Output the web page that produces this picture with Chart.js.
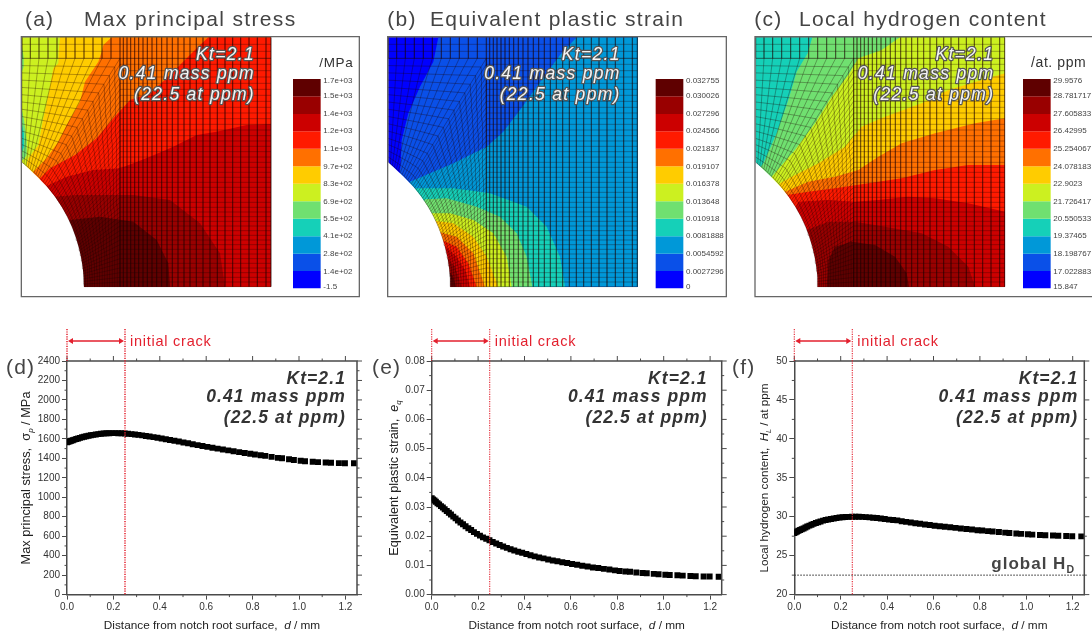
<!DOCTYPE html>
<html><head><meta charset="utf-8"><title>Notch contour and profile charts</title>
<style>html,body{margin:0;background:#fff;overflow:hidden;width:1092px;height:634px}canvas{position:absolute;display:block}</style>
<script src="https://cdn.jsdelivr.net/npm/chart.js@4/dist/chart.umd.min.js"></script></head><body>
<script>
/* ---------- profile data (d, e, f) ---------- */
const distance=[0,.006,.012,.018,.025,.032,.04,.048,.056,.065,.074,.083,.093,.103,.113,.124,.135,.146,.158,.17,.182,.195,.208,.221,.235,.249,.263,.278,.293,.308,.324,.34,.356,.373,.39,.408,.426,.444,.463,.482,.502,.522,.542,.563,.584,.605,.627,.649,.672,.695,.718,.742,.766,.79,.81,.835,.855,.882,.909,.927,.957,.978,1.007,1.026,1.059,1.082,1.115,1.138,1.172,1.198,1.237];
const stress=[1565,1570,1575,1580,1586,1592,1598,1604,1610,1616,1622,1627,1632,1637,1641,1645,1649,1652,1655,1657,1658,1659,1659,1658,1657,1655,1652,1649,1645,1641,1636,1630,1624,1618,1611,1604,1597,1589,1581,1572,1563,1554,1545,1536,1527,1518,1509,1500,1491,1482,1473,1464,1455,1447,1440,1432,1425,1415,1405,1400,1390,1383,1375,1371,1365,1361,1357,1354,1351,1350,1349];
const strain=[.033,.0326,.0322,.0318,.0313,.0309,.0303,.0298,.0292,.0286,.028,.0274,.0267,.0261,.0254,.0247,.0241,.0234,.0227,.0221,.0214,.0208,.0202,.0196,.0191,.0186,.018,.0175,.017,.0165,.016,.0155,.0151,.0147,.0143,.0139,.0135,.0131,.0127,.0124,.012,.0117,.0114,.0111,.0108,.0105,.0102,.0099,.0096,.0093,.0091,.0088,.0086,.0083,.0081,.0079,.0078,.0076,.0074,.0073,.0071,.007,.0068,.0067,.0066,.0065,.0064,.0063,.0062,.0062,.0061];
const hydrogen=[27.9,28,28.1,28.2,28.3,28.4,28.5,28.62,28.74,28.86,28.98,29.08,29.2,29.3,29.4,29.5,29.58,29.65,29.72,29.78,29.84,29.89,29.93,29.96,29.98,30,30,30,29.98,29.95,29.92,29.88,29.84,29.78,29.72,29.63,29.58,29.53,29.42,29.34,29.25,29.17,29.09,29.01,28.93,28.85,28.78,28.71,28.64,28.57,28.5,28.42,28.35,28.27,28.22,28.15,28.1,28.03,27.96,27.92,27.85,27.8,27.74,27.7,27.65,27.62,27.58,27.55,27.52,27.5,27.48];
const globalHydrogen=22.5;
const crackDepth=0.25;

/* ---------- contour legends ---------- */
const levelColors=['#0000ff','#0a50e8','#0098d8','#15d0b8','#70e070','#ccf020','#ffcc00','#ff7000','#ff1a00','#cc0000','#990000','#5f0000'];
const stressLegend=['1.7e+03','1.5e+03','1.4e+03','1.2e+03','1.1e+03','9.7e+02','8.3e+02','6.9e+02','5.5e+02','4.1e+02','2.8e+02','1.4e+02','-1.5'];
const strainLegend=['0.032755','0.030026','0.027296','0.024566','0.021837','0.019107','0.016378','0.013648','0.010918','0.0081888','0.0054592','0.0027296','0'];
const hydrogenLegend=['29.9576','28.781717','27.605833','26.42995','25.254067','24.078183','22.9023','21.726417','20.550533','19.37465','18.198767','17.022883','15.847'];
const legendEdges=[865,813,761,709,656,604,551,499,446,394,342,289,237];
const legendLabelY=[241,287,342,393,445,499,551,604,655,708,761,814,861];

/* ---------- contour bands: [level, boundary points], painted in order ---------- */
const stressBands=[
[5,[[66,112],[813,112],[813,860],[66,860]]],
[4,[[66,140],[71,170],[71,200],[66,215]]],
[4,[[66,330],[72,360],[80,420],[80,465],[72,478],[66,480]]],
[3,[[66,375],[72,400],[72,440],[66,455]]],
[6,[[180,112],[176,155],[175,190],[160,205],[145,285],[130,355],[115,435],[85,475],[80,490],[66,860],[813,860],[813,112]]],
[7,[[335,112],[310,135],[305,155],[295,185],[255,245],[240,305],[200,375],[175,425],[140,475],[100,515],[66,860],[813,860],[813,112]]],
[8,[[625,112],[590,145],[545,190],[500,235],[450,280],[390,300],[340,355],[290,415],[225,465],[150,505],[120,535],[66,860],[813,860],[813,112]]],
[9,[[813,372],[740,375],[650,395],[590,405],[520,440],[450,470],[400,490],[360,505],[280,510],[200,530],[135,560],[66,860],[813,860]]],
[10,[[160,590],[230,585],[400,585],[510,600],[600,670],[660,760],[675,860],[66,860]]],
[11,[[210,660],[300,650],[400,665],[470,720],[505,790],[510,860],[66,860]]]];
const strainBands=[
[0,[[55,112],[804,112],[804,860],[55,860]]],
[1,[[205,112],[190,185],[150,260],[115,340],[95,420],[92,490],[55,860],[804,860],[804,112]]],
[2,[[620,112],[570,165],[500,260],[450,330],[400,395],[350,440],[250,490],[180,520],[120,545],[55,860],[804,860],[804,112]]],
[3,[[135,565],[250,565],[360,580],[470,620],[530,680],[570,770],[585,860],[55,860]]],
[4,[[165,598],[230,595],[320,620],[390,650],[440,700],[470,770],[487,860],[55,860]]],
[5,[[185,640],[240,640],[310,660],[370,700],[410,770],[425,860],[55,860]]],
[6,[[195,662],[250,670],[310,710],[350,770],[385,860],[55,860]]],
[7,[[205,695],[260,710],[310,760],[345,860],[55,860]]],
[8,[[215,720],[260,740],[295,790],[320,860],[55,860]]],
[9,[[222,735],[260,770],[285,810],[300,860],[55,860]]],
[10,[[230,770],[255,800],[275,860],[55,860]]],
[11,[[238,815],[250,830],[258,860],[55,860]]]];
const hydrogenBands=[
[3,[[62,112],[810,112],[810,860],[62,860]]],
[4,[[232,112],[218,160],[185,215],[160,300],[125,400],[85,490],[70,510],[62,860],[810,860],[810,112]]],
[5,[[495,112],[440,150],[370,175],[340,225],[290,290],[240,370],[180,450],[110,530],[62,860],[810,860],[810,112]]],
[6,[[810,220],[740,240],[640,270],[560,310],[450,350],[380,380],[330,440],[250,490],[170,530],[135,550],[62,860],[810,860]]],
[7,[[810,355],[720,370],[600,400],[500,430],[430,470],[370,510],[300,530],[220,545],[150,575],[62,860],[810,860]]],
[8,[[810,495],[700,495],[600,510],[500,535],[400,550],[300,565],[220,575],[155,585],[62,860],[810,860]]],
[9,[[810,635],[700,610],[600,595],[520,590],[430,600],[360,605],[280,600],[190,605],[62,860],[810,860]]],
[10,[[720,860],[700,800],[640,740],[560,700],[450,680],[360,665],[280,665],[215,690],[62,860]]],
[11,[[275,860],[280,780],[300,740],[350,725],[420,735],[480,770],[515,820],[522,860]]]];

/* ---------- finite-element mesh layout, in the units of panel (a) ---------- */
const notchProfile=[[252,864],[252,860],[251,830],[248,800],[243,770],[236,740],[227,710],[216,680],[202,650],[185,620],[165,590],[141,560],[112,530],[66,487],[62,484],[62,864]];
const meshCols=[360,370,381,392,404,416,429,442,456,470,485,501,517,534,552,570,589,609,630,652,675,698,722,747,772,798,813];
const meshRows=[860,846,832,818,804,790,776,762,748,734,720,706,692,678,664,650,636,622,607,592,577,562,547,532,517,502,487,471,455,439,423,407,390,373,356,339,322,304,286,268,250,231,212,193,175];
const meshTopRows=[112,133,154,175];
const meshTopCols=[333,306,279,252,225,198,171,144,117,91,66];
const meshFractions=[0,.05,.11,.17,.23,.3,.37,.44,.51,.58,.65,.72,.79,.86,.93,1];

const sansFont='"Liberation Sans", Arial, sans-serif';
const darkText='#444';

function meshPoints(left){
  const dx=left-66,out=[];
  const brk=()=>out.push({x:NaN,y:NaN});
  const seg=(a,b,c,d)=>{out.push({x:a+dx,y:b},{x:c+dx,y:d});brk();};
  meshCols.forEach(c=>seg(c,112,c,860));
  meshRows.forEach(r=>seg(360,r,813,r));
  meshTopRows.forEach(r=>seg(66,r,813,r));
  const outer=meshRows.map(r=>[360,r]).concat(meshTopCols.map(c=>[c,175]));
  const tMax=Math.asin(373/467),N=outer.length;
  const inner=outer.map((_,i)=>{const t=tMax*i/(N-1);return[-215+467*Math.cos(t),860-467*Math.sin(t)];});
  outer.forEach((o,i)=>seg(inner[i][0],inner[i][1],o[0],o[1]));
  meshTopCols.forEach(c=>seg(c,112,c,175));
  meshFractions.forEach(f=>{
    outer.forEach((o,i)=>out.push({x:inner[i][0]+(o[0]-inner[i][0])*f+dx,y:inner[i][1]+(o[1]-inner[i][1])*f}));
    brk();
  });
  return out;
}
function shape(points,color){
  return {data:points.map(p=>({x:p[0],y:p[1]})),showLine:true,fill:'shape',backgroundColor:color,borderWidth:0,pointRadius:0,tension:0};
}
function setFont(ctx,size,style,spacing){
  ctx.font=(style||'')+' '+size+'px '+sansFont;
  ctx.letterSpacing=(spacing||0)+'px';
}
function label(ctx,text,x,y,size,o){
  o=o||{};
  setFont(ctx,size,o.style,o.spacing);
  ctx.textAlign=o.align||'left';ctx.textBaseline='middle';
  if(o.halo){ctx.lineJoin='round';ctx.lineWidth=o.haloWidth||2.6;ctx.strokeStyle=o.halo;ctx.strokeText(text,x,y);}
  ctx.fillStyle=o.color||darkText;ctx.fillText(text,x,y);
}
function rich(ctx,segs,x,y,size,o){
  o=o||{};
  ctx.save();ctx.translate(x,y);if(o.rot)ctx.rotate(o.rot);
  ctx.textBaseline='alphabetic';ctx.textAlign='left';
  const fmt=s=>[(o.style||'')+(s.i?' italic':''),s.sub?size*.62:size];
  let w=0;
  segs.forEach(s=>{const f=fmt(s);setFont(ctx,f[1],f[0],o.spacing);s.w=ctx.measureText(s.t).width;w+=s.w;});
  let cx=o.align==='right'?-w:-w/2;
  ctx.fillStyle=o.color||'#222';
  segs.forEach(s=>{const f=fmt(s);setFont(ctx,f[1],f[0],o.spacing);ctx.fillText(s.t,cx,size*.36+(s.sub?size*.24:0));cx+=s.w;});
  ctx.restore();
}

/* ---------- contour panels ---------- */
function contourPanel(c){
  const cv=document.createElement('canvas');
  cv.width=c.w;cv.height=317;cv.style.left=c.x0+'px';cv.style.top='0px';
  document.body.appendChild(cv);
  const paint=[];
  c.bands.forEach(b=>paint.push(shape(b[1],levelColors[b[0]])));
  const dx=c.left-66;
  paint.push(shape(notchProfile.map(p=>[p[0]+dx,p[1]]),'#fff'));
  for(let i=0;i<12;i++){
    paint.push(shape([[c.barX,legendEdges[i]],[c.barX+83,legendEdges[i]],[c.barX+83,legendEdges[i+1]],[c.barX,legendEdges[i+1]]],levelColors[i]));
  }
  paint.push({data:meshPoints(c.left),showLine:true,spanGaps:false,fill:false,borderColor:'rgba(30,0,0,.48)',borderWidth:.65,pointRadius:0,tension:0});
  paint.reverse();
  new Chart(cv,{type:'scatter',data:{datasets:paint},
    options:{responsive:false,animation:false,events:[],
      layout:{padding:{left:c.xMin/3,right:c.w-c.xMax/3,top:110/3,bottom:317-890/3}},
      scales:{x:{type:'linear',display:false,min:c.xMin,max:c.xMax},y:{type:'linear',display:false,reverse:true,min:110,max:890}},
      plugins:{legend:{display:false},tooltip:{enabled:false},title:{display:false}}},
    plugins:[{id:'panelText',afterDraw(ch){
      const ctx=ch.ctx,a=ch.chartArea,sx=ch.scales.x,sy=ch.scales.y;
      ctx.save();
      ctx.strokeStyle='#666';ctx.lineWidth=1.3;
      ctx.beginPath();
      if(c.open){ctx.moveTo(a.right+2,a.top);ctx.lineTo(a.left,a.top);ctx.lineTo(a.left,a.bottom);ctx.lineTo(a.right+2,a.bottom);}
      else ctx.rect(a.left,a.top,a.width,a.height);
      ctx.stroke();
      label(ctx,c.tag,c.tagX/3,20,21,{spacing:1.2});
      label(ctx,c.title,c.titleX/3,20,21,{spacing:1.35});
      c.unit&&label(ctx,c.unit,sx.getPixelForValue(c.unitX),sy.getPixelForValue(190),c.unitSize,{color:'#333',spacing:.6});
      const gx=sx.getPixelForValue(c.textR);
      const note={style:'italic',align:'right',spacing:1.3,color:'#f4f4f4',halo:'#555',haloWidth:2.4};
      label(ctx,'Kt=2.1',gx,sy.getPixelForValue(165),17.5,note);
      label(ctx,'0.41 mass ppm',gx,sy.getPixelForValue(222),17.5,note);
      label(ctx,'(22.5 at ppm)',gx,sy.getPixelForValue(285),17.5,note);
      c.legend.forEach((t,i)=>label(ctx,t,sx.getPixelForValue(c.barX+91),sy.getPixelForValue(legendLabelY[i]),8,{color:'#444'}));
      ctx.restore();
    }}]
  });
}
contourPanel({x0:0,w:370,left:66,xMin:64,xMax:1078,barX:879,textR:765,bands:stressBands,legend:stressLegend,tag:'(a)',tagX:75,title:'Max principal stress',titleX:252,unit:'/MPa',unitX:958,unitSize:13.5});
contourPanel({x0:370,w:365,left:55,xMin:53,xMax:1069,barX:857,textR:752,bands:strainBands,legend:strainLegend,tag:'(b)',tagX:52,title:'Equivalent plastic strain',titleX:180});
contourPanel({x0:735,w:357,left:62,xMin:60,xMax:1071,open:true,barX:864,textR:778,bands:hydrogenBands,legend:hydrogenLegend,tag:'(c)',tagX:58,title:'Local hydrogen content',titleX:192,unit:'/at. ppm',unitX:888,unitSize:14});

/* ---------- profile panels ---------- */
function profilePanel(c){
  const cv=document.createElement('canvas');
  const y0=317,h=317;
  cv.width=c.w;cv.height=h;cv.style.left=c.x0+'px';cv.style.top=y0+'px';
  document.body.appendChild(cv);
  const axisCol='#4a4a4a';
  const left=c.plotL-c.x0, plotW=290, top=361-y0, bottom=594.6-y0;
  const datasets=[{data:distance.map((d,i)=>({x:d,y:c.values[i]})),showLine:false,pointStyle:'rect',pointRadius:4.2,pointBackgroundColor:'#000',pointBorderWidth:0}];
  if(c.ref!==undefined)datasets.push({data:[{x:0,y:c.ref},{x:1.25,y:c.ref}],showLine:true,borderColor:'#222',borderWidth:1,borderDash:[1.5,1.5],pointRadius:0});
  new Chart(cv,{type:'scatter',data:{datasets},
    options:{responsive:false,animation:false,events:[],
      layout:{padding:{left:left-45,right:c.w-left-plotW,top:top,bottom:h-bottom-30}},
      scales:{
        x:{type:'linear',min:0,max:1.25,afterFit(s){s.height=30;},
          border:{display:true,color:axisCol,width:1.5},
          grid:{drawOnChartArea:false,drawTicks:true,tickLength:5,tickColor:axisCol,tickWidth:1},
          ticks:{stepSize:.2,includeBounds:false,autoSkip:false,maxRotation:0,padding:2,color:'#333',font:{family:sansFont,size:10},callback:v=>v.toFixed(1)}},
        y:{type:'linear',min:c.yMin,max:c.yMax,afterFit(s){s.width=45;},
          border:{display:true,color:axisCol,width:1.5},
          grid:{drawOnChartArea:false,drawTicks:true,tickLength:5,tickColor:axisCol,tickWidth:1},
          ticks:{stepSize:c.yStep,autoSkip:false,padding:2,color:'#333',font:{family:sansFont,size:10},callback:v=>v.toFixed(c.yDigits)}}},
      plugins:{legend:{display:false},tooltip:{enabled:false},title:{display:false}}},
    plugins:[{id:'profileExtras',afterDatasetsDraw(ch){
      const ctx=ch.ctx,a=ch.chartArea,sx=ch.scales.x,sy=ch.scales.y;
      ctx.save();
      ctx.strokeStyle=axisCol;ctx.lineWidth=1.5;
      ctx.beginPath();ctx.moveTo(a.left,a.top);ctx.lineTo(a.right,a.top);ctx.lineTo(a.right,a.bottom);ctx.stroke();
      ctx.lineWidth=1;ctx.beginPath();
      const mx=(xv,len)=>{const p=sx.getPixelForValue(xv);ctx.moveTo(p,a.bottom);ctx.lineTo(p,a.bottom+len);ctx.moveTo(p,a.top);ctx.lineTo(p,a.top-len);};
      const my=(yv,len)=>{const p=sy.getPixelForValue(yv);ctx.moveTo(a.left,p);ctx.lineTo(a.left-len,p);ctx.moveTo(a.right,p);ctx.lineTo(a.right+len,p);};
      for(let i=0;i<=12;i++){ if(i%2){mx(i/10,2.5);} else {const p=sx.getPixelForValue(i/10);ctx.moveTo(p,a.top);ctx.lineTo(p,a.top-5);} }
      const n=Math.round((c.yMax-c.yMin)/c.yStep);
      for(let i=0;i<=n;i++){
        const v=c.yMin+i*c.yStep,p=sy.getPixelForValue(v);
        ctx.moveTo(a.right,p);ctx.lineTo(a.right+5,p);
        if(i<n)my(v+c.yStep/2,2.5);
      }
      ctx.stroke();
      /* initial crack marker */
      const red='#e3202e',x0=sx.getPixelForValue(0),x1=sx.getPixelForValue(crackDepth),ya=341-y0,yt=329-y0;
      ctx.strokeStyle=red;ctx.lineWidth=c.crackW;ctx.setLineDash([1.2,1.2]);
      ctx.beginPath();ctx.moveTo(x0,yt);ctx.lineTo(x0,a.top);ctx.moveTo(x1,yt);ctx.lineTo(x1,a.bottom);ctx.stroke();
      ctx.setLineDash([]);ctx.lineWidth=1.5;
      ctx.beginPath();ctx.moveTo(x0+3,ya);ctx.lineTo(x1-3,ya);ctx.stroke();
      ctx.fillStyle=red;ctx.beginPath();
      ctx.moveTo(x0+1,ya);ctx.lineTo(x0+6,ya-3);ctx.lineTo(x0+6,ya+3);ctx.closePath();
      ctx.moveTo(x1-1,ya);ctx.lineTo(x1-6,ya-3);ctx.lineTo(x1-6,ya+3);ctx.closePath();ctx.fill();
      label(ctx,'initial crack',a.left+63,ya+.5,14.5,{color:red,spacing:.75});
      /* text */
      const note={style:'italic bold',align:'right',spacing:1.1,color:'#333'};
      const tr=c.plotL-c.x0+c.noteR;
      label(ctx,'Kt=2.1',tr,379-y0,17.5,note);
      label(ctx,'0.41 mass ppm',tr,397-y0,17.5,note);
      label(ctx,'(22.5 at ppm)',tr,418-y0,17.5,note);
      label(ctx,c.tag,c.tagX-c.x0,368-y0,21,{spacing:1.2});
      rich(ctx,c.yTitle,c.yTitleX-c.x0,478-y0,c.yTitleSize,{rot:-Math.PI/2});
      rich(ctx,[{t:'Distance from notch root surface,  '},{t:'d',i:true},{t:' / mm'}],c.plotL-c.x0+145,625-y0,11.8);
      if(c.ref!==undefined)rich(ctx,[{t:'global H'},{t:'D',sub:true}],1075-c.x0,563-y0,17,{style:'bold',align:'right',spacing:1,color:'#444'});
      ctx.restore();
    }}]
  });
}
profilePanel({x0:0,w:370,plotL:67,values:stress,yMin:0,yMax:2400,yStep:200,yDigits:0,tag:'(d)',tagX:6,noteR:279,crackW:1.5,
  yTitle:[{t:'Max principal stress,  σ'},{t:'p',i:true,sub:true},{t:' / MPa'}],yTitleX:25,yTitleSize:12.8});
profilePanel({x0:370,w:362,plotL:431.7,values:strain,yMin:0,yMax:.08,yStep:.01,yDigits:2,tag:'(e)',tagX:372,noteR:276,crackW:1.1,
  yTitle:[{t:'Equivalent plastic strain,  '},{t:'e',i:true},{t:'q',i:true,sub:true}],yTitleX:393,yTitleSize:12.7});
profilePanel({x0:732,w:360,plotL:794.3,values:hydrogen,yMin:20,yMax:50,yStep:5,yDigits:0,ref:globalHydrogen,tag:'(f)',tagX:732,noteR:284,crackW:1.1,
  yTitle:[{t:'Local hydrogen content,  '},{t:'H',i:true},{t:'L',i:true,sub:true},{t:' / at ppm'}],yTitleX:764,yTitleSize:11.7});
</script></body></html>
